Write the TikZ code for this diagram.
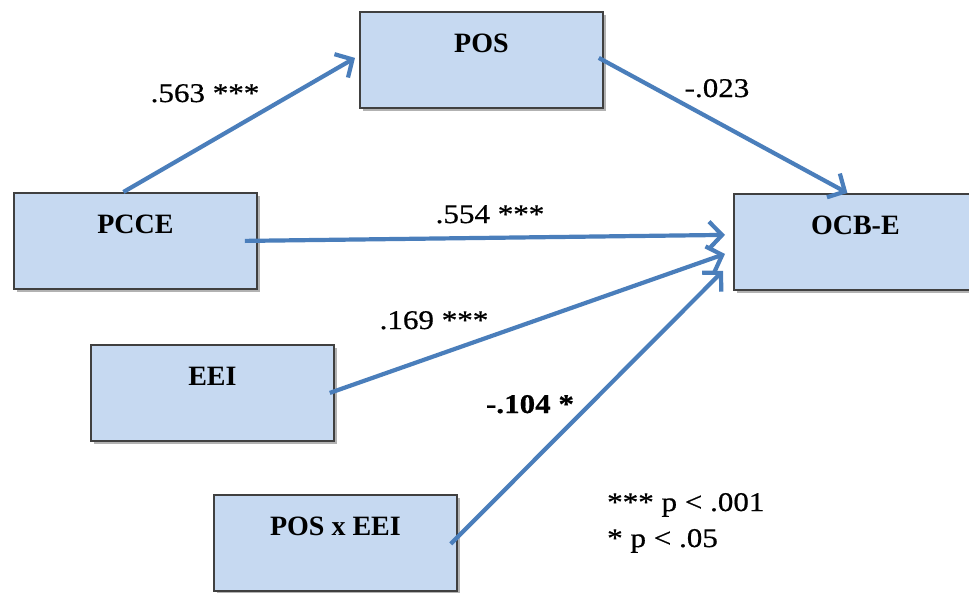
\documentclass[tikz,border=0pt]{standalone}
\usepackage{fontspec}
\setmainfont{Liberation Serif}
\newfontfamily\labfont{Liberation Serif}[FakeStretch=1.15,FakeBold=0.6]
\usetikzlibrary{arrows.meta,shadows}
\definecolor{boxfill}{HTML}{C6D9F1}
\definecolor{boxline}{HTML}{404040}
\definecolor{arrowblue}{HTML}{4A7EBB}
\begin{document}
\begin{tikzpicture}[x=1pt,y=-1pt,
  box/.style={draw=boxline, line width=1.8pt, fill=boxfill, rectangle,
    minimum width=243pt, minimum height=96pt, inner sep=0pt,
    text height=41pt, text depth=55pt,
    font=\fontsize{28}{30}\selectfont\bfseries, anchor=north west,
    drop shadow={shadow xshift=3pt, shadow yshift=-3pt, opacity=0.3, fill=black}},
  arr/.style={draw=arrowblue, line width=4.2pt, -{Straight Barb[length=13pt,width=27pt]}},
  lab/.style={font=\fontsize{27}{30}\labfont, anchor=base, inner sep=0pt}]
\useasboundingbox (0,0) rectangle (969,592);
\clip (0,0) rectangle (969,592);
\fill[white] (0,0) rectangle (969,592);

\node[box] (pos)  at (359,11)  {POS};
\node[box] (pcce) at (13,192)  {PCCE};
\node[box] (ocb)  at (733,193) {OCB-E};
\node[box] (eei)  at (90,344)  {EEI};
\node[box] (posx) at (213,494) {POS x EEI};

\draw[arr] ([xshift=-12pt]pcce.north) -- ([shift={(-4,-2)}]pos.west);
\draw[arr] ([shift={(-5,-2)}]pos.east) -- ([xshift=-8pt]ocb.north);
\draw[arr] ([xshift=-13pt]pcce.east) -- ([shift={(-8,-7)}]ocb.west);
\draw[arr] ([xshift=-5pt]eei.east) -- ([shift={(-8,12)}]ocb.west);
\draw[arr] ([shift={(-7,1)}]posx.east) -- ([shift={(-10,29)}]ocb.west);

\node[lab] (l563) at (205,102) {.563 ***};
\node[lab] (l554) at (490,223) {.554 ***};
\node[lab] (l023) at (717,97)  {-.023};
\node[lab] (l169) at (434,329) {.169 ***};
\node[lab, font=\fontsize{27}{30}\labfont\bfseries] (l104) at (530,413) {-.104 *};
\node[lab, anchor=base west] (leg1) at (607,511) {*** p < .001};
\node[lab, anchor=base west] (leg2) at (607,547) {* p < .05};
\end{tikzpicture}
\end{document}
